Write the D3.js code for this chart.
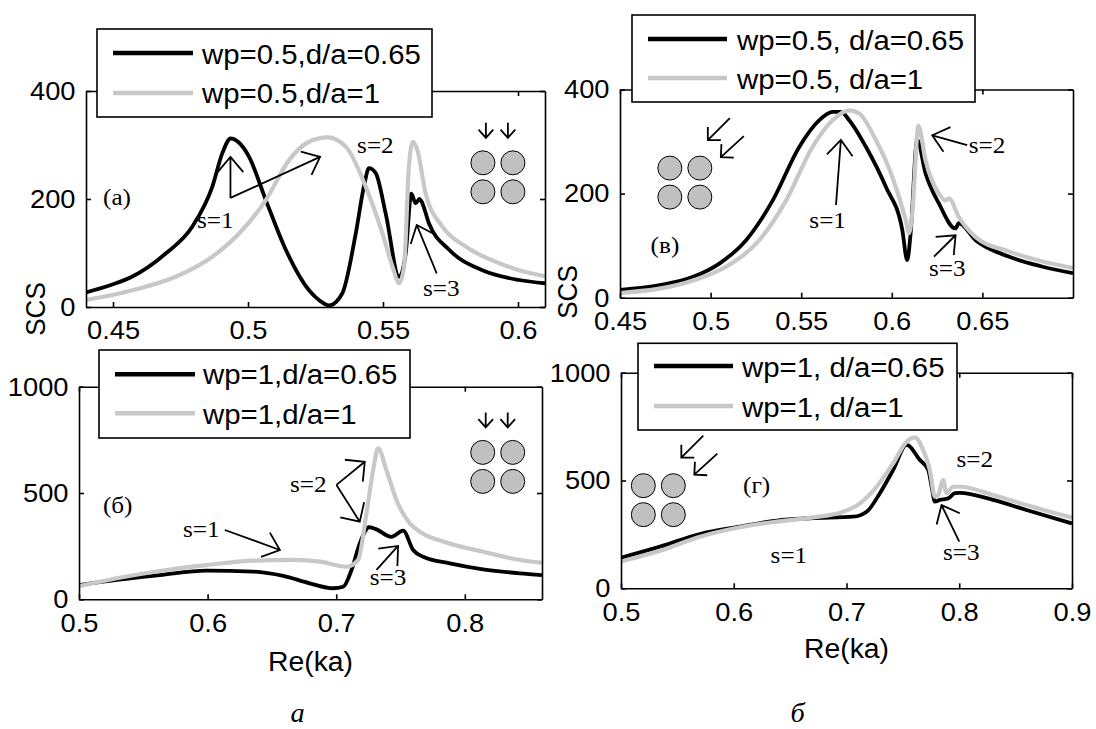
<!DOCTYPE html>
<html><head><meta charset="utf-8">
<script src="https://cdn.jsdelivr.net/npm/d3@7"></script>
<style>body{margin:0;background:#fff}</style>
</head><body>
<svg id="c" width="1096" height="729" xmlns="http://www.w3.org/2000/svg"></svg>
<script>
// ---------- DATA (Re(ka), SCS) ----------
// panel (a): wp=0.5, normal incidence
const aBlack = [[0.44,27],[0.45,42],[0.457,56],[0.4695,99],[0.4794,149],[0.4868,223],[0.4905,285],[0.4936,312],[0.4965,305],[0.5004,278],[0.5066,198],[0.514,106],[0.5226,31],[0.5265,12],[0.53,3],[0.5349,25],[0.5399,136],[0.543,225],[0.5448,257],[0.5473,248],[0.551,173],[0.556,56],[0.5584,99],[0.5605,210],[0.5621,192],[0.5635,200],[0.5642,196],[0.567,155],[0.5745,106],[0.5868,68],[0.6004,50],[0.61,44]];
const aGray  = [[0.44,13],[0.4572,31],[0.4732,56],[0.4868,93],[0.4967,136],[0.5066,198],[0.5152,272],[0.5226,306],[0.5294,314],[0.5362,297],[0.5436,223],[0.5498,136],[0.5535,75],[0.556,44],[0.5578,75],[0.5596,260],[0.5611,306],[0.5627,291],[0.5658,210],[0.572,149],[0.5806,112],[0.5931,81],[0.6004,68],[0.61,57]];
// panel (в): wp=0.5, oblique incidence
const vBlack = [[0.45,15],[0.472,24],[0.4903,40],[0.505,66],[0.5197,111],[0.5343,187],[0.549,290],[0.56,341],[0.5673,357],[0.5719,357],[0.5765,341],[0.5857,290],[0.5967,213],[0.6058,130],[0.6085,72],[0.6104,124],[0.614,303],[0.6186,239],[0.626,181],[0.6351,133],[0.637,143],[0.6461,111],[0.6645,79],[0.6828,60],[0.70,47]];
const vGray  = [[0.45,9],[0.4903,33],[0.5087,60],[0.527,111],[0.5417,187],[0.5563,290],[0.5673,341],[0.5765,360],[0.582,354],[0.5912,303],[0.6003,232],[0.6077,149],[0.6095,124],[0.6113,162],[0.6147,330],[0.6186,264],[0.626,200],[0.6296,187],[0.6315,191],[0.637,155],[0.6461,117],[0.6645,89],[0.6828,70],[0.70,57]];
// panel (б): wp=1, normal incidence
const bBlack = [[0.5,67],[0.5293,91],[0.5629,114],[0.5992,135],[0.6354,130],[0.6588,110],[0.6795,75],[0.6976,52],[0.7054,59],[0.7119,138],[0.7183,263],[0.7256,339],[0.7313,329],[0.7429,294],[0.752,323],[0.7598,232],[0.7676,200],[0.7883,169],[0.8141,141],[0.8427,122],[0.86,114]];
const bGray  = [[0.5,62],[0.5293,99],[0.5681,138],[0.5992,161],[0.6354,182],[0.6665,185],[0.6872,177],[0.708,153],[0.717,185],[0.7235,404],[0.7287,608],[0.7326,710],[0.739,608],[0.7468,467],[0.7572,357],[0.765,318],[0.7883,263],[0.8141,224],[0.8427,185],[0.86,172]];
// panel (г): wp=1, oblique incidence
const gBlack = [[0.5,142],[0.5346,193],[0.57,252],[0.6055,286],[0.638,314],[0.6676,325],[0.706,332],[0.7179,355],[0.7296,441],[0.7414,549],[0.7533,665],[0.7651,595],[0.7725,549],[0.7755,471],[0.7784,402],[0.7828,410],[0.7902,417],[0.7961,441],[0.8005,443],[0.83,410],[0.8596,363],[0.9,301]];
const gGray  = [[0.5,124],[0.5346,174],[0.57,239],[0.6055,283],[0.638,309],[0.6705,329],[0.6971,355],[0.7119,394],[0.7267,471],[0.7414,580],[0.7533,680],[0.7606,700],[0.768,641],[0.7739,549],[0.7784,425],[0.7813,433],[0.7858,502],[0.7887,441],[0.7946,471],[0.8005,471],[0.83,433],[0.8596,386],[0.9,327]];

// ticks
const aXTicks = [0.45,0.5,0.55,0.6], aYTicks = [0,200,400];
const vXTicks = [0.45,0.5,0.55,0.6,0.65], vYTicks = [0,200,400];
const bXTicks = [0.5,0.6,0.7,0.8], bYTicks = [0,500,1000];
const gXTicks = [0.5,0.6,0.7,0.8,0.9], gYTicks = [0,500,1000];
// legends
const aLegend = ["wp=0.5,d/a=0.65","wp=0.5,d/a=1"];
const vLegend = ["wp=0.5, d/a=0.65","wp=0.5, d/a=1"];
const bLegend = ["wp=1,d/a=0.65","wp=1,d/a=1"];
const gLegend = ["wp=1, d/a=0.65","wp=1, d/a=1"];

// ---------- DRAWING ----------
const svg = d3.select('#c');
const SX = 1.05;
const SANS = "'Liberation Sans', Arial, sans-serif";
const SERIF = "'Liberation Serif', 'Times New Roman', serif";
const BLACK = '#000', GRAY = '#c8c8c8';

function txt(g, x, y, s, size, family, opts = {}) {
  const t = g.append('text')
    .attr('transform', `translate(${x},${y}) scale(${SX},1)` + (opts.rotate ? ` rotate(${opts.rotate})` : ''))
    .attr('font-size', size).attr('font-family', family).attr('fill', '#000')
    .attr('text-anchor', opts.anchor || 'start')
    .text(s);
  if (opts.italic) t.attr('font-style', 'italic');
  return t;
}
function arrow(g, x1, y1, x2, y2, len = 20, ang = 40, w = 1.8) {
  const a = Math.atan2(y2 - y1, x2 - x1), r = ang * Math.PI / 180;
  const d = `M${x1},${y1}L${x2},${y2}` +
    `M${x2 - len * Math.cos(a - r)},${y2 - len * Math.sin(a - r)}L${x2},${y2}` +
    `L${x2 - len * Math.cos(a + r)},${y2 - len * Math.sin(a + r)}`;
  g.append('path').attr('d', d).attr('fill', 'none').attr('stroke', '#000')
    .attr('stroke-width', w).attr('stroke-linejoin', 'miter');
}
function icon(g, cx, cy, type) {
  const pts = [[0,0],[30,0],[0,29],[30,29]];
  pts.forEach(p => g.append('circle').attr('cx', cx + p[0]).attr('cy', cy + p[1]).attr('r', 12)
    .attr('fill', '#c0c0c0').attr('stroke', '#000').attr('stroke-width', 1));
  if (type === 'down') {
    arrow(g, cx + 3, cy - 40, cx + 3, cy - 25, 11, 42, 1.8);
    arrow(g, cx + 25, cy - 40, cx + 25, cy - 25, 11, 42, 1.8);
  } else {
    arrow(g, cx + 60, cy - 50, cx + 38, cy - 28, 13, 45, 1.8);
    arrow(g, cx + 74, cy - 32, cx + 51, cy - 11, 13, 45, 1.8);
  }
}

let clipN = 0;
function panel(c) {
  const x = d3.scaleLinear().domain(c.xDomain).range([c.left, c.right]);
  const y = d3.scaleLinear().domain(c.yDomain).range([c.bottom, c.top]);
  const g = svg.append('g');
  const id = 'clip' + (clipN++);
  svg.append('clipPath').attr('id', id).append('rect')
    .attr('x', c.left).attr('y', c.top - 2).attr('width', c.right - c.left).attr('height', c.bottom - c.top + 2);
  const line = d3.line().x(d => x(d[0])).y(d => y(d[1])).curve(d3.curveMonotoneX);
  g.append('path').datum(c.black).attr('d', line).attr('fill', 'none').attr('stroke', BLACK)
    .attr('stroke-width', 3.8).attr('stroke-linejoin', 'round').attr('clip-path', `url(#${id})`);
  g.append('path').datum(c.gray).attr('d', line).attr('fill', 'none').attr('stroke', GRAY)
    .attr('stroke-width', 4.2).attr('stroke-linejoin', 'round').attr('clip-path', `url(#${id})`);

  // axes (box, inward ticks)
  const fmt = d => String(d);
  const styleAxis = (sel) => {
    sel.attr('font-size', null).attr('font-family', null);
    sel.selectAll('path,line').attr('stroke', '#000').attr('stroke-width', 1.6);
    sel.selectAll('text').attr('font-size', 26).attr('font-family', SANS).attr('fill', '#000')
      .attr('transform', `scale(${SX},1)`);
  };
  g.append('g').attr('transform', `translate(0,${c.bottom})`)
    .call(d3.axisBottom(x).tickValues(c.xTicks).tickFormat(fmt).tickSizeInner(-5).tickSizeOuter(0).tickPadding(14))
    .call(styleAxis);
  g.append('g').attr('transform', `translate(0,${c.top})`)
    .call(d3.axisTop(x).tickValues(c.xTicks).tickFormat('').tickSizeInner(-5).tickSizeOuter(0))
    .call(styleAxis);
  g.append('g').attr('transform', `translate(${c.left},0)`)
    .call(d3.axisLeft(y).tickValues(c.yTicks).tickFormat(fmt).tickSizeInner(-5).tickSizeOuter(0).tickPadding(10))
    .call(styleAxis);
  g.append('g').attr('transform', `translate(${c.right},0)`)
    .call(d3.axisRight(y).tickValues(c.yTicks).tickFormat('').tickSizeInner(-5).tickSizeOuter(0))
    .call(styleAxis);

  // annotations
  const P = (v) => [x(v[0]), y(v[1])];
  const lab = P(c.panelLabel.at);
  txt(g, lab[0], lab[1], c.panelLabel.text, 24, SERIF);
  c.sLabels.forEach(s => { const p = P(s.at); txt(g, p[0], p[1], s.text, 24, SERIF); });
  c.arrows.forEach(a => { const p1 = P(a.from), p2 = P(a.to); arrow(g, p1[0], p1[1], p2[0], p2[1], a.len || 20, a.ang || 40); });
  const ic = P(c.icon.at);
  icon(g, ic[0], ic[1], c.icon.type);

  // legend
  const L = c.legend;
  g.append('rect').attr('x', L.box[0]).attr('y', L.box[1]).attr('width', L.box[2] - L.box[0]).attr('height', L.box[3] - L.box[1])
    .attr('fill', '#fff').attr('stroke', '#000').attr('stroke-width', 1.6);
  [BLACK, GRAY].forEach((col, i) => {
    g.append('line').attr('x1', L.lineX[0]).attr('x2', L.lineX[1]).attr('y1', L.rowY[i]).attr('y2', L.rowY[i])
      .attr('stroke', col).attr('stroke-width', 4.6);
    txt(g, L.textX, L.base[i], c.legendText[i], 28, SANS);
  });
  return { x, y };
}

// panel (a)
panel({
  left: 86, right: 545, top: 91, bottom: 307, xDomain: [0.44, 0.61], yDomain: [0, 400],
  xTicks: aXTicks, yTicks: aYTicks, black: aBlack, gray: aGray, legendText: aLegend,
  legend: { box: [97, 29, 432, 117], lineX: [113, 193], rowY: [53, 93], textX: 202, base: [64, 103] },
  panelLabel: { text: '(a)', at: [0.4463, 189] },
  sLabels: [{ text: 's=1', at: [0.4811, 146] }, { text: 's=2', at: [0.5404, 285] }, { text: 's=3', at: [0.5648, 20] }],
  arrows: [{ from: [0.4935, 202], to: [0.4935, 278] }, { from: [0.4935, 202], to: [0.5267, 278] },
           { from: [0.5699, 62], to: [0.5625, 152] }],
  icon: { at: [0.587, 267], type: 'down' }
});
// panel (в)
panel({
  left: 620, right: 1073, top: 89.5, bottom: 297.7, xDomain: [0.45, 0.70], yDomain: [0, 400],
  xTicks: vXTicks, yTicks: vYTicks, black: vBlack, gray: vGray, legendText: vLegend,
  legend: { box: [632, 15, 975, 102], lineX: [648, 727], rowY: [39, 78], textX: 737, base: [50, 89] },
  panelLabel: { text: '(в)', at: [0.4669, 86] },
  sLabels: [{ text: 's=1', at: [0.5545, 134] }, { text: 's=2', at: [0.6425, 278] }, { text: 's=3', at: [0.6205, 42] }],
  arrows: [{ from: [0.5692, 178], to: [0.5719, 303] }, { from: [0.6416, 293], to: [0.6223, 312] },
           { from: [0.6233, 79], to: [0.6352, 120] }],
  icon: { at: [0.4775, 249], type: 'diag' }
});
// panel (б)
panel({
  left: 79, right: 542, top: 386.7, bottom: 599.3, xDomain: [0.5, 0.86], yDomain: [0, 1000],
  xTicks: bXTicks, yTicks: bYTicks, black: bBlack, gray: bGray, legendText: bLegend,
  legend: { box: [99, 350, 410, 438], lineX: [115, 195], rowY: [374.3, 413.3], textX: 203, base: [384, 424] },
  panelLabel: { text: '(б)', at: [0.5186, 407] },
  sLabels: [{ text: 's=1', at: [0.5808, 294] }, { text: 's=2', at: [0.664, 506] }, { text: 's=3', at: [0.7261, 67] }],
  arrows: [{ from: [0.6134, 326], to: [0.6562, 232] }, { from: [0.7002, 538], to: [0.7222, 647], ang: 45 },
           { from: [0.7002, 538], to: [0.7183, 365], ang: 45 }, { from: [0.7313, 138], to: [0.7481, 251] }],
  icon: { at: [0.8139, 691], type: 'down' }
});
// panel (г)
panel({
  left: 621, right: 1072, top: 372.7, bottom: 588.3, xDomain: [0.5, 0.9], yDomain: [0, 1000],
  xTicks: gXTicks, yTicks: gYTicks, black: gBlack, gray: gGray, legendText: gLegend,
  legend: { box: [638, 343.3, 957, 430], lineX: [654, 733], rowY: [366, 406], textX: 742, base: [377, 417] },
  panelLabel: { text: '(г)', at: [0.6082, 441] },
  sLabels: [{ text: 's=1', at: [0.6327, 117] }, { text: 's=2', at: [0.7976, 561] }, { text: 's=3', at: [0.7855, 131] }],
  arrows: [{ from: [0.80, 216], to: [0.7843, 386] }],
  icon: { at: [0.5198, 476], type: 'diag' }
});

// axis titles and sub-figure captions
const capG = svg.append('g');
txt(capG, 310.5, 671, 'Re(ka)', 27, SANS, { anchor: 'middle' });
txt(capG, 846.5, 658, 'Re(ka)', 27, SANS, { anchor: 'middle' });
txt(capG, 45, 309, 'SCS', 26, SANS, { anchor: 'middle', rotate: -90 });
txt(capG, 577, 292, 'SCS', 26, SANS, { anchor: 'middle', rotate: -90 });
txt(capG, 297.5, 722, 'а', 27, SERIF, { anchor: 'middle', italic: true });
txt(capG, 797.5, 722, 'б', 27, SERIF, { anchor: 'middle', italic: true });
</script>
</body></html>
